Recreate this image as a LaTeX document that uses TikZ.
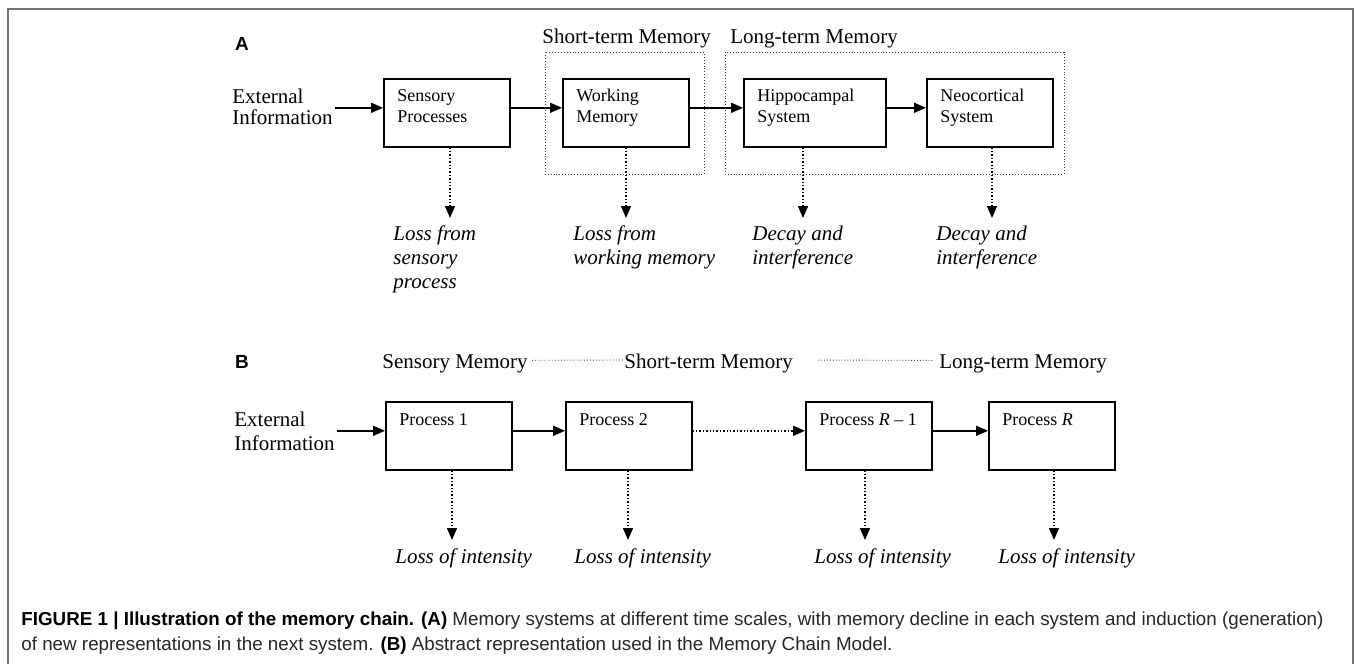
\documentclass[tikz,border=0pt]{standalone}
\usepackage{fontspec}
\setmainfont{Liberation Serif}
\newfontfamily\panelfont{Liberation Sans}
\newfontfamily\capfont{Liberation Sans}
\usetikzlibrary{arrows.meta}
\newcommand{\lossarrow}[2]{
  \draw[lossflow] (#1.south -| #2) -- (#2);
}
\tikzset{
  frameline/.style={draw=black!55, line width=1pt},
  groupline/.style={draw=black!75, densely dotted, line width=0.45pt},
  procbox/.style={draw, line width=0.8pt, minimum height=34pt, minimum width=63pt,
    anchor=north west, inner sep=0},
  boxlabel/.style={anchor=base west, inner sep=0, align=left,
    font=\fontsize{9}{10.5}\selectfont},
  plainlabel/.style={anchor=base west, inner sep=0, align=left,
    font=\fontsize{10.5}{10.5}\selectfont},
  losslabel/.style={anchor=base west, inner sep=0, align=left,
    font=\fontsize{10.5}{12}\selectfont\itshape},
  panel/.style={font=\panelfont\bfseries\fontsize{9.5}{9.5}\selectfont},
  flow/.style={-{Triangle[length=6pt,width=5pt]}, line width=0.8pt},
  lossflow/.style={-{Triangle[length=6pt,width=5pt]}, densely dotted, line width=0.7pt},
  headline/.style={densely dotted, line width=0.45pt, draw=black!75},
}

\begin{document}
\begin{tikzpicture}[x=0.5pt, y=-0.5pt]
  \useasboundingbox (0,0) rectangle (1356,664);
  \draw[frameline] (8,664) -- (8,9) -- (1353,9) -- (1353,664);

  % panel A
  \node[panel] (labA) at (242,44) {A};
  \node[plainlabel] (stmA) at (542,43) {Short-term Memory};
  \node[plainlabel] (ltmA) at (730,43) {Long-term Memory};
  \draw[groupline] (545,52) rectangle (704,174);
  \draw[groupline] (725,52) rectangle (1064,174);

  \node[plainlabel, inner sep=1pt] (extA) at (230,124) {External\\Information};
  \node[procbox] (sens) at (383,78) {};
  \node[procbox] (work) at (562,78) {};
  \node[procbox, minimum width=71pt] (hipp) at (743,78) {};
  \node[procbox] (neo) at (926,78) {};
  \foreach \b/\t in {sens/{Sensory\\Processes}, work/{Working\\Memory},
                     hipp/{Hippocampal\\System}, neo/{Neocortical\\System}}
    \node[boxlabel] (\b-text) at ([shift={(14,44)}]\b.north west) {\t};

  \coordinate (inA) at ([yshift=2.5pt]sens.west);
  \draw[flow] (extA.east |- inA) -- (inA);
  \draw[flow] ([yshift=2.5pt]sens.east) -- ([yshift=2.5pt]work.west);
  \draw[flow] ([yshift=2.5pt]work.east) -- ([yshift=2.5pt]hipp.west);
  \draw[flow] ([yshift=2.5pt]hipp.east) -- ([yshift=2.5pt]neo.west);

  \coordinate (tipA1) at (450,218);
  \coordinate (tipA2) at (626,218);
  \coordinate (tipA3) at (803,218);
  \coordinate (tipA4) at (992,218);
  \lossarrow{sens}{tipA1}
  \lossarrow{work}{tipA2}
  \lossarrow{hipp}{tipA3}
  \lossarrow{neo}{tipA4}
  \node[losslabel] (lossA1) at (393,288) {Loss from\\sensory\\process};
  \node[losslabel] (lossA2) at (573,264) {Loss from\\working memory};
  \node[losslabel] (lossA3) at (752,264) {Decay and\\interference};
  \node[losslabel] (lossA4) at (936,264) {Decay and\\interference};

  % panel B
  \node[panel] (labB) at (242,362) {B};
  \node[plainlabel] (smB) at (382,368) {Sensory Memory};
  \node[plainlabel] (stmB) at (624,368) {Short-term Memory};
  \node[plainlabel] (ltmB) at (939,368) {Long-term Memory};
  \draw[headline, shorten <=2pt] ([yshift=1.5pt]smB.east) -- ([yshift=1.5pt]stmB.west);
  \draw[headline, shorten <=12.5pt, shorten >=3pt] ([yshift=1.5pt]stmB.east) -- ([yshift=1.5pt]ltmB.west);

  \node[plainlabel, inner sep=1pt, font=\fontsize{10.5}{12}\selectfont] (extB) at (232,450) {External\\Information};
  \node[procbox] (p1) at (385,401) {};
  \node[procbox] (p2) at (565,401) {};
  \node[procbox] (pr1) at (805,401) {};
  \node[procbox] (pr) at (988,401) {};
  \foreach \b/\t in {p1/{Process 1}, p2/{Process 2},
                     pr1/{Process \textit{R} -- 1}, pr/{Process \textit{R}}}
    \node[boxlabel] (\b-text) at ([shift={(14,24)}]\b.north west) {\t};

  \coordinate (inB) at ([yshift=2.5pt]p1.west);
  \draw[flow] (extB.east |- inB) -- (inB);
  \draw[flow] ([yshift=2.5pt]p1.east) -- ([yshift=2.5pt]p2.west);
  \draw[lossflow] ([yshift=2.5pt]p2.east) -- ([yshift=2.5pt]pr1.west);
  \draw[flow] ([yshift=2.5pt]pr1.east) -- ([yshift=2.5pt]pr.west);

  \coordinate (tipB1) at (452,540);
  \coordinate (tipB2) at (628,540);
  \coordinate (tipB3) at (865,540);
  \coordinate (tipB4) at (1054,540);
  \lossarrow{p1}{tipB1}
  \lossarrow{p2}{tipB2}
  \lossarrow{pr1}{tipB3}
  \lossarrow{pr}{tipB4}
  \foreach \i/\x in {1/395, 2/574, 3/814, 4/998}
    \node[losslabel] (lossB\i) at (\x,563) {Loss of intensity};

  % caption
  \node[anchor=base west, inner sep=0, align=left, text=black!85,
        font=\capfont\fontsize{9.4}{12.5}\selectfont] (caption) at (21,650)
    {\textcolor{black}{\textbf{FIGURE 1 | Illustration of the memory chain. (A)}} Memory systems at different time scales, with memory decline in each system and induction (generation)\\
     of new representations in the next system. \textcolor{black}{\textbf{(B)}} Abstract representation used in the Memory Chain Model.};
\end{tikzpicture}
\end{document}
